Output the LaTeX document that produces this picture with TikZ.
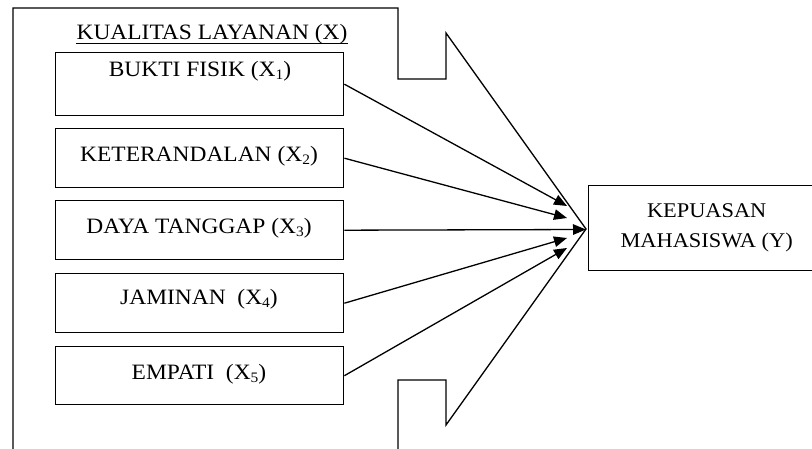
\documentclass[tikz,border=0pt]{standalone}
\usepackage{fontspec}
\setmainfont{Liberation Serif}[FakeStretch=1.07]
\usetikzlibrary{arrows.meta}
% lowered small index digit, as in X with a subscript
\newcommand\xsub[1]{\raisebox{-0.3ex}{\fontsize{14.5}{14.5}\selectfont #1}}
\begin{document}
\begin{tikzpicture}[x=1bp, y=-1bp, line width=1.3bp,
  every node/.style={font=\fontsize{22}{30}\selectfont},
  dimbox/.style={draw, line width=1.4bp, minimum width=288bp, minimum height=60bp,
    inner sep=0pt, anchor=north west},
  dimtext/.style={inner sep=0pt},
  link/.style={-{Triangle[length=13bp,width=10.5bp]}, line width=1.3bp}]
\useasboundingbox (0,0) rectangle (812,449);
\clip (0,0) rectangle (812,449);

% outer frame drawn as a broad arrow pointing right
\draw (13,449) -- (13,8) -- (398,8) -- (398,79) -- (446,79) -- (446,33)
  -- (586,229) -- (446,425) -- (446,380) -- (398,380) -- (398,449);

% heading of the group
\node[inner sep=0pt, anchor=base] (title) at (212,40) {KUALITAS LAYANAN (X)};
\draw[line width=0.9bp] ([yshift=-3bp]title.base west) -- ([yshift=-3bp]title.base east);

% dimension boxes
\node[dimbox, minimum height=63bp] (b1) at (55,52) {};
\node[dimbox, minimum height=59bp] (b2) at (55,128) {};
\node[dimbox, minimum height=59bp] (b3) at (55,200) {};
\node[dimbox, minimum height=59bp] (b4) at (55,273) {};
\node[dimbox, minimum height=58bp] (b5) at (55,346) {};

\node[dimtext] (l1) at (200,71)  {BUKTI FISIK (X\xsub{1})};
\node[dimtext] (l2) at (199,156) {KETERANDALAN (X\xsub{2})};
\node[dimtext] (l3) at (199,228) {DAYA TANGGAP (X\xsub{3})};
\node[dimtext] (l4) at (199,299) {JAMINAN~ (X\xsub{4})};
\node[dimtext] (l5) at (199,374) {EMPATI~ (X\xsub{5})};

% outcome box
\node[draw, line width=1.4bp, minimum width=236bp, minimum height=85bp, inner sep=0pt,
  anchor=north west, align=center, font=\fontsize{21}{30}\selectfont] (y) at (588,185)
  {KEPUASAN\\MAHASISWA (Y)};

% arrow tips gathered at the left of the outcome box
\coordinate (e1) at (567,206);
\coordinate (e2) at (567,218);
\coordinate (e3) at (586,229.5);
\coordinate (e4) at (567,238);
\coordinate (e5) at (567,248);

\draw[link] (b1.east) -- (e1);
\draw[link] (b2.east) -- (e2);
\draw[link] (b3.east) -- (e3);
\draw[link] (b4.east) -- (e4);
\draw[link] (b5.east) -- (e5);
\end{tikzpicture}
\end{document}
